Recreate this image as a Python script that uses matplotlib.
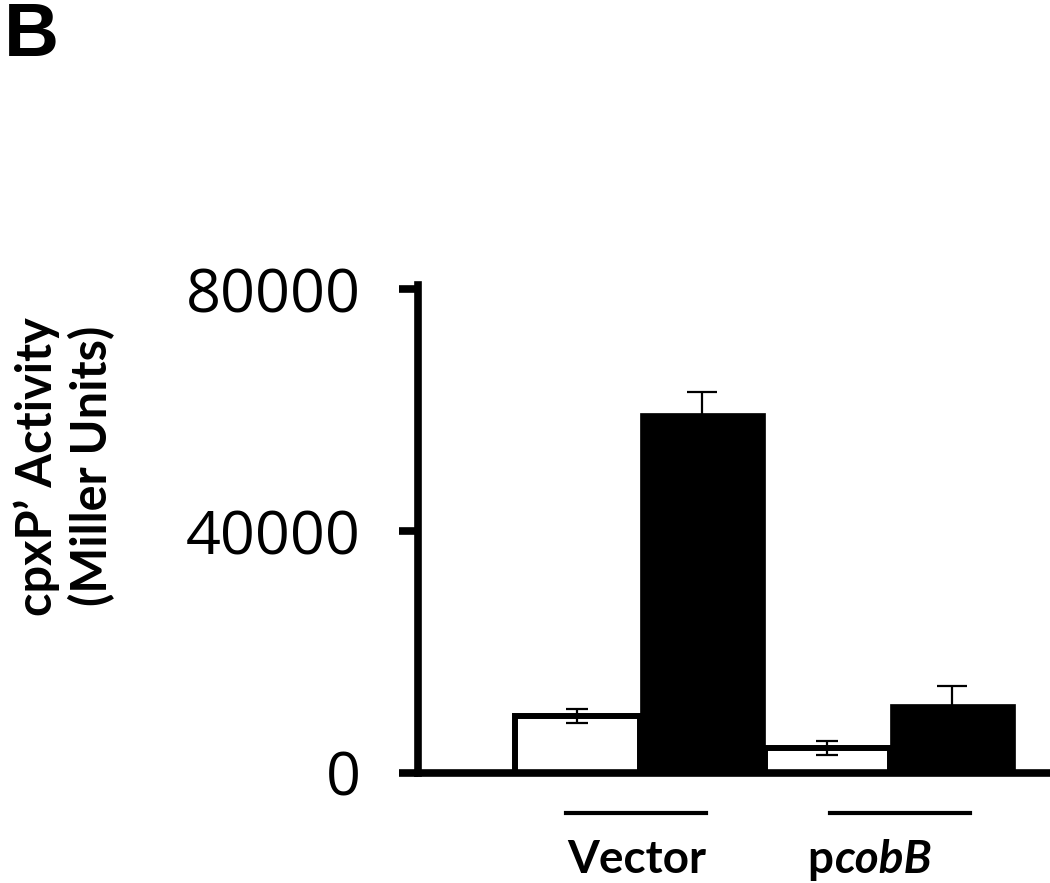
import numpy as np
import matplotlib.pyplot as plt
from matplotlib.transforms import blended_transform_factory

groups = ['Vector', 'pcobB']
untreated = [9400, 4150]
untreated_err = [1150, 1200]
treated = [59500, 11400]
treated_err = [3500, 3000]
yticks = [0, 40000, 80000]

fig = plt.figure(figsize=(10.5, 8.83), dpi=100)
ax = fig.add_axes([0.398, 0.1246, 0.602, 0.548])

x = np.arange(len(groups))
w = 0.5
ax.bar(x - w / 2, untreated, w, color='white', edgecolor='black', linewidth=4.3, zorder=2)
ax.bar(x + w / 2, treated, w, color='black', edgecolor='black', linewidth=0.5, zorder=2)
ax.errorbar(x - w / 2, untreated, yerr=untreated_err, fmt='none', ecolor='black',
            elinewidth=1.6, capsize=8, capthick=1.6, zorder=3)
ax.errorbar(x + w / 2, treated, yerr=treated_err, fmt='none', ecolor='black',
            elinewidth=1.6, capsize=11, capthick=1.6, zorder=3)

ax.set_xlim(-0.888, 1.64)
ax.set_ylim(0, 80000)
ax.set_yticks(yticks)
ax.set_yticklabels([str(t) for t in yticks], fontsize=44, family='Open Sans')
ax.set_xticks([])
for s in ['top', 'right']:
    ax.spines[s].set_visible(False)
for s in ['left', 'bottom']:
    ax.spines[s].set_linewidth(5.5)
ax.spines['left'].set_bounds(0, 80600)
ax.tick_params(axis='y', length=14, width=5.5, pad=27)

# group lines and labels below the axis
tr = blended_transform_factory(ax.transData, ax.transAxes)
line_pos = [-0.014, 1.04]
for xc in line_pos:
    ax.plot([xc - 0.28, xc + 0.28], [-0.082, -0.082], color='black', lw=3,
            transform=tr, clip_on=False)
ax.text(line_pos[0], -0.18, 'Vector', transform=tr, ha='center', va='center',
        fontsize=33, fontweight='bold', family='Lato')
ax.text(0.775, -0.18, 'p', transform=tr, ha='right', va='center',
        fontsize=33, fontweight='bold', family='Lato')
ax.text(0.775, -0.18, 'cobB', transform=tr, ha='left', va='center',
        fontsize=33, fontweight='bold', fontstyle='italic', family='Lato')

fig.text(0.061, 0.472, 'cpxP\u2019 Activity\n(Miller Units)', rotation=90,
         ha='center', va='center', multialignment='center', fontsize=35,
         fontweight='bold', family='Lato', linespacing=1.2)
fig.text(0.004, 0.999, 'B', ha='left', va='top', fontsize=55, fontweight='bold',
         family='Liberation Sans')

fig.savefig('out.png', dpi=100)
